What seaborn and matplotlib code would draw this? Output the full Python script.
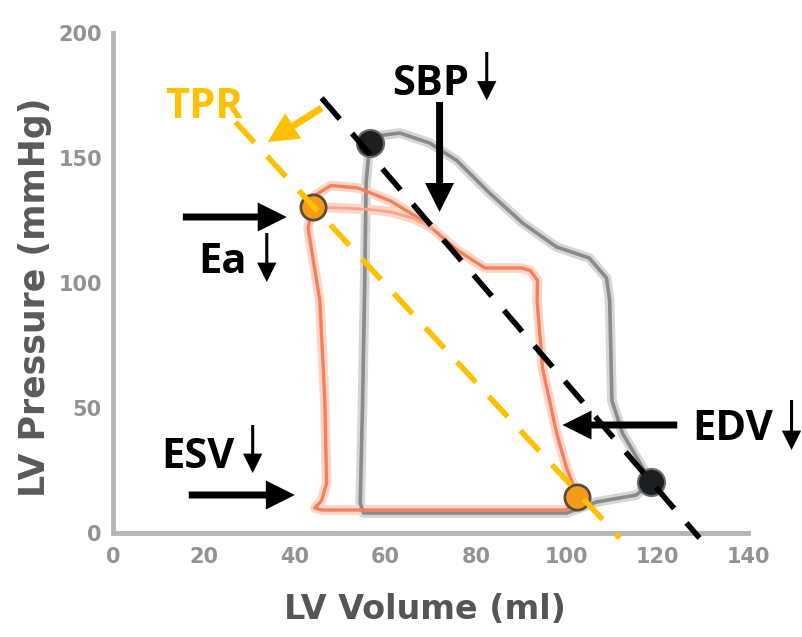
import matplotlib
matplotlib.use("Agg")
import matplotlib.pyplot as plt
import numpy as np
import pandas as pd
import seaborn as sns

# ---------------- data ----------------
vol_ticks = [0, 20, 40, 60, 80, 100, 120, 140]
pres_ticks = [0, 50, 100, 150, 200]

# baseline PV loop (grey)
baseline_vol = [118.7, 116.7, 112.3, 110.0, 109.5, 108.8, 105.0, 97.8, 90.3, 83.0,
                75.8, 69.8, 63.2, 59.0, 56.6, 55.8, 55.5, 55.0, 54.5, 55.2,
                100.0, 106.6, 115.4, 118.7]
baseline_pres = [20.5, 26.4, 40.0, 53.0, 93.0, 102.0, 110.0, 114.4, 124.0, 136.0,
                 149.0, 156.0, 160.0, 159.0, 156.0, 140.0, 100.0, 50.0, 12.0, 8.0,
                 8.0, 12.4, 15.2, 20.5]

# treated PV loop (orange)
treat_vol = [102.2, 101.3, 100.0, 97.8, 94.7, 93.5, 93.6, 92.0, 90.0, 82.0,
             76.0, 68.3, 61.0, 54.0, 48.0, 44.5, 44.0, 43.0, 45.6, 46.7,
             47.1, 46.0, 44.5, 46.0, 100.0, 102.2]
treat_pres = [14.5, 20.0, 26.0, 40.0, 66.0, 93.0, 101.0, 105.0, 106.0, 106.0,
              113.0, 125.0, 133.0, 138.0, 139.0, 135.0, 130.4, 122.0, 93.0, 53.0,
              20.0, 13.0, 10.0, 9.2, 9.2, 14.5]
# second beat of the treated loop (lower strand of the ejection phase)
treat_beat2_vol = [44.0, 50.0, 56.0, 61.0, 66.0, 70.5]
treat_beat2_pres = [130.4, 130.0, 129.5, 128.5, 126.0, 122.0]

# end-systolic / end-diastolic points
base_pts_vol = [56.6, 118.7]
base_pts_pres = [156.0, 20.5]
treat_pts_vol = [44.0, 102.2]
treat_pts_pres = [130.4, 14.5]

# dashed lines (black: baseline, gold: TPR)
black_line_vol = [46.0, 129.3]
black_line_pres = [174.0, -2.0]
tpr_line_vol = [27.0, 111.7]
tpr_line_pres = [164.4, -2.0]

# ---------------- styling ----------------
sns.set_theme(style="white")
plt.rcParams["font.family"] = ["DejaVu Sans"]

GOLD = "#ffc000"
fig = plt.figure(figsize=(8.02, 6.37), dpi=100)
ax = fig.add_axes([113 / 802, (637 - 533) / 637, (748 - 113) / 802, 500 / 637])

base_df = pd.DataFrame({"vol": baseline_vol, "pres": baseline_pres})
treat_df = pd.DataFrame({"vol": treat_vol, "pres": treat_pres})
beat2_df = pd.DataFrame({"vol": treat_beat2_vol, "pres": treat_beat2_pres})

sns.lineplot(data=base_df, x="vol", y="pres", sort=False, estimator=None,
             color="#d6d6d6", lw=7, ax=ax, zorder=2)
sns.lineplot(data=base_df, x="vol", y="pres", sort=False, estimator=None,
             color="#8a8a8a", lw=2.6, ax=ax, zorder=3)
for d in (treat_df, beat2_df):
    sns.lineplot(data=d, x="vol", y="pres", sort=False, estimator=None,
                 color="#fdd5c7", lw=7, ax=ax, zorder=2)
sns.lineplot(data=treat_df, x="vol", y="pres", sort=False, estimator=None,
             color="#f2815f", lw=2.4, ax=ax, zorder=3)
sns.lineplot(data=beat2_df, x="vol", y="pres", sort=False, estimator=None,
             color="#f7a58c", lw=2.0, ax=ax, zorder=3)

sns.scatterplot(x=base_pts_vol, y=base_pts_pres, s=380, color="#1c1f22",
                edgecolor="#6a6a6a", linewidth=1.5, ax=ax, zorder=4)
sns.scatterplot(x=treat_pts_vol, y=treat_pts_pres, s=330, color="#f59b1c",
                edgecolor="#5e4a38", linewidth=2, ax=ax, zorder=4)

l1, = ax.plot(black_line_vol, black_line_pres, color="black", lw=4,
              dashes=(5.0, 3.4), zorder=5, clip_on=False)
l2, = ax.plot(tpr_line_vol, tpr_line_pres, color=GOLD, lw=4,
              dashes=(5.0, 3.4), zorder=5, clip_on=False)
for ln in (l1, l2):
    ln.set_dash_capstyle("butt")

ax.set_xlim(0, 140)
ax.set_ylim(0, 200)
ax.set_xticks(vol_ticks)
ax.set_yticks(pres_ticks)
ax.tick_params(axis="both", direction="in", length=6, width=1.5, color="#a8a8a8",
               labelsize=15, labelcolor="#939393")
ax.tick_params(axis="x", pad=10)
ax.tick_params(axis="y", pad=8)
for lab in ax.get_xticklabels() + ax.get_yticklabels():
    lab.set_fontweight("bold")

for s in ("top", "right"):
    ax.spines[s].set_visible(False)
for s in ("left", "bottom"):
    ax.spines[s].set_color("#b5b5b5")
    ax.spines[s].set_linewidth(3.5)

ax.set_xlabel("LV Volume (ml)", fontsize=24, fontweight="bold", color="#555555")
ax.set_ylabel("LV Pressure (mmHg)", fontsize=25, fontweight="bold", color="#5a5a5a")
ax.xaxis.set_label_coords((425 - 113) / 635, (533 - 593) / 500)
ax.yaxis.set_label_coords((52 - 113) / 635, (533 - 297) / 500)

# ---------------- annotations ----------------
def arrow(tail, tip, lw, ms, color="black"):
    ax.annotate("", xy=tip, xytext=tail, xycoords="data", textcoords="data",
                annotation_clip=False,
                arrowprops=dict(arrowstyle="-|>", lw=lw, color=color,
                                mutation_scale=ms, shrinkA=0, shrinkB=0,
                                joinstyle="miter", capstyle="butt"),
                zorder=6)

tfont = dict(family="Open Sans", fontweight="bold", fontsize=30, zorder=7)

# SBP
ax.text(61.6, 175.2, "SBP", ha="left", va="baseline", color="black", **tfont)
arrow((82.4, 192.4), (82.4, 173.0), 2.2, 26)
arrow((72.0, 172.4), (72.0, 128.4), 5, 32)
# Ea
ax.text(18.8, 104.0, "Ea", ha="left", va="baseline", color="black", **tfont)
arrow((33.9, 120.0), (33.9, 100.4), 2.2, 26)
arrow((15.4, 126.4), (38.3, 126.4), 5, 32)
# ESV
ax.text(10.6, 26.0, "ESV", ha="left", va="baseline", color="black", **tfont)
arrow((30.8, 43.2), (30.8, 24.0), 2.2, 26)
arrow((16.7, 15.2), (40.1, 15.2), 5, 32)
# EDV
ax.text(127.8, 37.2, "EDV", ha="left", va="baseline", color="black", **tfont)
arrow((149.6, 53.2), (149.6, 33.2), 2.2, 26)
arrow((124.4, 43.2), (99.1, 43.2), 5, 32)
# TPR
ax.text(11.6, 166.0, "TPR", ha="left", va="baseline", color=GOLD, **tfont)
arrow((46.0, 170.0), (34.1, 156.4), 5, 34, color=GOLD)

fig.savefig("out.png", dpi=100)
